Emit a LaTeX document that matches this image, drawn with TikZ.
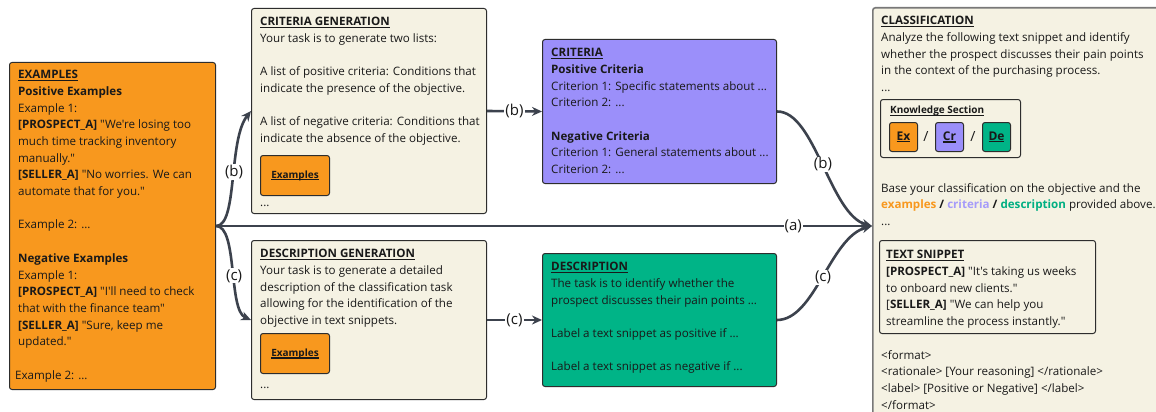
\documentclass[tikz,border=0pt]{standalone}
\usepackage{fontspec}
\setmainfont{Open Sans}[Ligatures=TeXOff]
\usetikzlibrary{arrows.meta}
\definecolor{exorange}{RGB}{248,152,30}
\definecolor{cream}{RGB}{245,242,227}
\definecolor{crpurple}{RGB}{155,143,250}
\definecolor{degreen}{RGB}{0,180,135}
\definecolor{edge}{RGB}{60,66,77}
\definecolor{boxline}{RGB}{45,45,45}
\definecolor{clline}{RGB}{120,120,120}
\definecolor{txtorange}{RGB}{248,152,30}
\definecolor{txtpurple}{RGB}{165,155,250}
\definecolor{txtgreen}{RGB}{0,175,130}
\definecolor{ink}{RGB}{25,25,25}
\newsavebox{\hdbox}
\newcommand{\hd}[1]{\sbox{\hdbox}{\textbf{#1}}\leavevmode\rlap{\rule[-2.4pt]{\wd\hdbox}{1.3pt}}\usebox{\hdbox}}
\begin{document}
\begin{tikzpicture}[x=1pt,y=-1pt,
  box/.style={draw=boxline, line width=1pt, rounded corners=2.5pt, anchor=north west, inner sep=0pt},
  txt/.style={anchor=north west, inner sep=0pt, align=left, font=\fontsize{11.6}{16.7}\selectfont, text=ink},
  exbtn/.style={box, fill=exorange, minimum width=69pt, minimum height=40pt, font=\fontsize{10}{12}\selectfont, text=ink},
  kbtn/.style={box, minimum width=28pt, minimum height=29pt, font=\fontsize{12}{14}\selectfont, text=ink},
  conn/.style={draw=edge, line width=2.6pt, -{Stealth[length=10pt,width=9pt]}},
  lbl/.style={fill=white, inner sep=1pt, font=\fontsize{15}{15}\selectfont, text=ink}]
\clip (0,0) rectangle (1156,412);
\fill[white] (0,0) rectangle (1156,412);

% EXAMPLES
\node[box, fill=exorange, minimum width=206pt, minimum height=327pt] (ex) at (9,62) {};
\node[txt] (extxt) at (18,70) {\hd{EXAMPLES}\\
\textbf{Positive Examples}\\
Example 1:\\
\textbf{[PROSPECT\_A]} "We're losing too\\
much time tracking inventory\\
manually."\\
\textbf{[SELLER\_A]} "No worries. We can\\
automate that for you."\\[16.7pt]
Example 2: ...\\[16.7pt]
\textbf{Negative Examples}\\
Example 1:\\
\textbf{[PROSPECT\_A]} "I'll need to check\\
that with the finance team"\\
\textbf{[SELLER\_A]} "Sure, keep me\\
updated."\\[16.7pt]
\hspace*{-3pt}Example 2: ...};

% CRITERIA GENERATION
\node[box, fill=cream, minimum width=235pt, minimum height=205pt] (cg) at (251,8) {};
\node[txt] (cgtxt) at (260,17) {\hd{CRITERIA GENERATION}\\
Your task is to generate two lists:\\[16.7pt]
A list of positive criteria: Conditions that\\
indicate the presence of the objective.\\[16.7pt]
A list of negative criteria: Conditions that\\
indicate the absence of the objective.};
\node[exbtn] (cgex) at (260,155) {\hd{Examples}};
\node[txt] (cgdots) at (260,205) {...};

% DESCRIPTION GENERATION
\node[box, fill=cream, minimum width=235pt, minimum height=159pt] (dg) at (251,240) {};
\node[txt] (dgtxt) at (260,249) {\hd{DESCRIPTION GENERATION}\\
Your task is to generate a detailed\\
description of the classification task\\
allowing for the identification of the\\
objective in text snippets.};
\node[exbtn] (dgex) at (260,333) {\hd{Examples}};
\node[txt] (dgdots) at (260,387) {...};

% CRITERIA
\node[box, fill=crpurple, minimum width=234pt, minimum height=144pt] (cr) at (542,39) {};
\node[txt] (crtxt) at (551,48) {\hd{CRITERIA}\\
\textbf{Positive Criteria}\\
Criterion 1: Specific statements about ...\\
Criterion 2: ...\\[16.7pt]
\textbf{Negative Criteria}\\
Criterion 1: General statements about ...\\
Criterion 2: ...};

% DESCRIPTION
\node[box, fill=degreen, minimum width=234pt, minimum height=133pt] (de) at (542,253) {};
\node[txt] (detxt) at (551,262) {\hd{DESCRIPTION}\\
The task is to identify whether the\\
prospect discusses their pain points ...\\[16.7pt]
Label a text snippet as positive if ...\\[16.7pt]
Label a text snippet as negative if ...};

% CLASSIFICATION
\node[box, draw=clline, line width=1.6pt, fill=cream, minimum width=300pt, minimum height=430pt] (cl) at (872,7) {};
\node[txt] (cltxt) at (881,16) {\hd{CLASSIFICATION}\\
Analyze the following text snippet and identify\\
whether the prospect discusses their pain points\\
in the context of the purchasing process.\\
...};
\node[box, minimum width=140pt, minimum height=58pt] (ks) at (880,99) {};
\node[anchor=north west, inner sep=0pt, font=\fontsize{10}{12}\selectfont, text=ink] (kstxt) at (890,106) {\hd{Knowledge Section}};
\node[kbtn, fill=exorange] (kex) at (889,122) {\hd{Ex}};
\node[kbtn, fill=crpurple] (kcr) at (935,122) {\hd{Cr}};
\node[kbtn, fill=degreen] (kde) at (982,122) {\hd{De}};
\node[font=\fontsize{14}{14}\selectfont, text=ink] (s1) at (926,137) {/};
\node[font=\fontsize{14}{14}\selectfont, text=ink] (s2) at (973,137) {/};
\node[txt] (cltxt2) at (881,183) {Base your classification on the objective and the\\
\textbf{\color{txtorange}examples} \textbf{/} \textbf{\color{txtpurple}criteria} \textbf{/} \textbf{\color{txtgreen}description} provided above.\\
...};
\node[box, minimum width=216pt, minimum height=93pt] (ts) at (879,240) {};
\node[txt] (tstxt) at (886,250) {\hd{TEXT SNIPPET}\\
\textbf{[PROSPECT\_A]} "It's taking us weeks\\
to onboard new clients."\\
{[}\textbf{SELLER\_A]} "We can help you\\
streamline the process instantly."};
\node[txt] (fmt) at (881,350) {<format>\\
<rationale> [Your reasoning] </rationale>\\
<label> [Positive or Negative] </label>\\
</format>};

% connectors
\coordinate (cin) at (ex.east -| cl.west);
\draw[conn] (ex.east) .. controls (238,226) and (228,140) .. (cg.west) node[lbl,pos=0.55]{(b)};
\draw[conn] (ex.east) .. controls (238,226) and (228,310) .. (dg.west) node[lbl,pos=0.55]{(c)};
\draw[conn] (ex.east) -- (cin) node[lbl,pos=0.88]{(a)};
\draw[conn] (cg.east) -- (cr.west) node[lbl,midway]{(b)};
\draw[conn] (dg.east) -- (de.west) node[lbl,midway]{(c)};
\draw[conn] (cr.east) .. controls (815,111) and (830,215) .. (cin) node[lbl,pos=0.5]{(b)};
\draw[conn] (de.east) .. controls (815,320) and (830,237) .. (cin) node[lbl,pos=0.5]{(c)};
\end{tikzpicture}
\end{document}
